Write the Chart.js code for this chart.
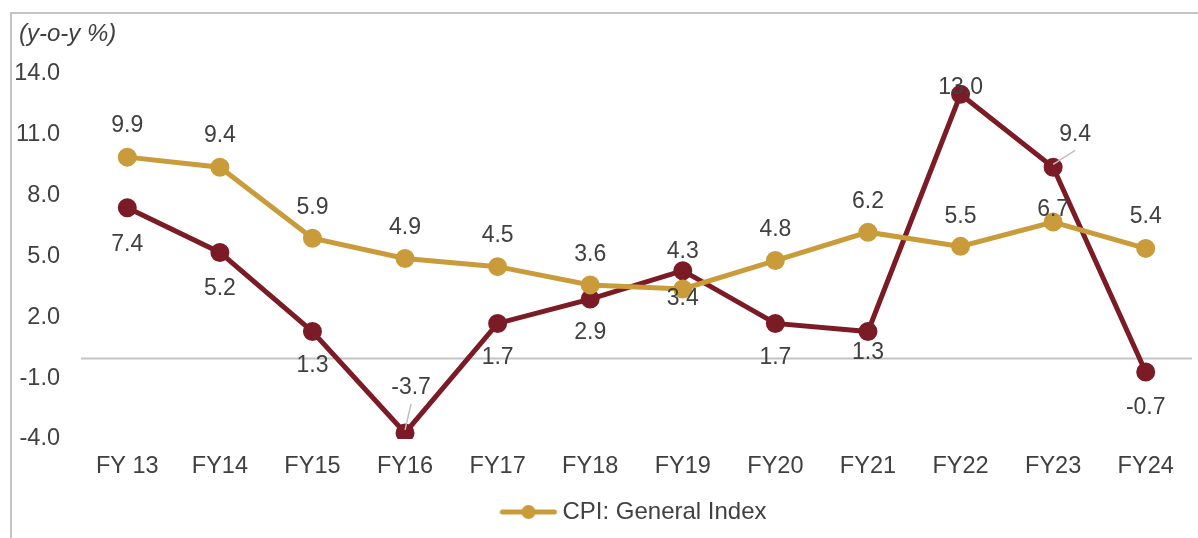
<!DOCTYPE html>
<html>
<head>
<meta charset="utf-8">
<script src="https://cdn.jsdelivr.net/npm/chart.js@4.4.1/dist/chart.umd.min.js"></script>
<style>
  html, body { margin: 0; padding: 0; background: #fff; overflow: hidden; }
  #frame { position: absolute; left: 10px; top: 12px; width: 1186px; height: 526px;
           border-left: 2px solid #c4c4c4; border-top: 2px solid #c4c4c4; }
  #wrap { position: absolute; left: 0; top: 0; width: 1198px; height: 538px; overflow: hidden; }
</style>
</head>
<body>
<div id="frame"></div>
<div id="wrap"><canvas id="grafico" width="1204" height="538"></canvas></div>
<script>
const anos = ['FY 13', 'FY14', 'FY15', 'FY16', 'FY17', 'FY18', 'FY19', 'FY20', 'FY21', 'FY22', 'FY23', 'FY24'];
const cpiGeral = [9.9, 9.4, 5.9, 4.9, 4.5, 3.6, 3.4, 4.8, 6.2, 5.5, 6.7, 5.4];
const serieVermelha = [7.4, 5.2, 1.3, -3.7, 1.7, 2.9, 4.3, 1.7, 1.3, 13.0, 9.4, -0.7];
const ticksY = [-4, -1, 2, 5, 8, 11, 14];

// deslocamento dos rótulos [dx, dy] em relação ao ponto
const rotulosCpi = [[0,-31],[0,-32],[0,-31],[0,-31],[0,-31],[0,-30],[0,10],[0,-31],[0,-31],[0,-30],[0,-12],[0,-32]];
const rotulosVermelha = [[0,37],[0,36],[0,34],[6,-45],[0,34],[0,34],[0,-19],[0,34],[0,21],[0,-7],[22,-33],[0,36]];
const comLinha = { 3: true, 10: true };

const DOURADO = 'rgb(201,155,58)';
const VINHO = 'rgb(123,27,38)';
const TEXTO = '#404040';
const FONTE = 'Liberation Sans, Arial, sans-serif';

// ícone da legenda: linha com bolinha
const iconeLegenda = document.createElement('canvas');
iconeLegenda.width = 58; iconeLegenda.height = 16;
(function () {
  const c = iconeLegenda.getContext('2d');
  c.strokeStyle = DOURADO; c.lineWidth = 5; c.lineCap = 'round';
  c.beginPath(); c.moveTo(3, 8); c.lineTo(55, 8); c.stroke();
  c.fillStyle = DOURADO; c.beginPath(); c.arc(29, 8, 7, 0, Math.PI * 2); c.fill();
})();

// linha do zero
const linhaZero = {
  id: 'linhaZero',
  beforeDatasetsDraw(chart) {
    const { ctx, chartArea } = chart;
    const y = Math.round(chart.scales.y.getPixelForValue(0)) + 0.5;
    ctx.save();
    ctx.strokeStyle = '#c4c4c4';
    ctx.lineWidth = 2;
    ctx.beginPath();
    ctx.moveTo(chartArea.left, y);
    ctx.lineTo(chartArea.right, y);
    ctx.stroke();
    ctx.restore();
  }
};

const rotulos = {
  id: 'rotulos',
  afterDatasetsDraw(chart) {
    const ctx = chart.ctx;
    ctx.save();
    ctx.font = '23px ' + FONTE;
    ctx.fillStyle = TEXTO;
    ctx.textAlign = 'center';
    ctx.textBaseline = 'middle';
    const desloc = [rotulosCpi, rotulosVermelha];
    chart.data.datasets.forEach((ds, i) => {
      const meta = chart.getDatasetMeta(i);
      meta.data.forEach((pt, j) => {
        const [dx, dy] = desloc[i][j];
        const x = pt.x + dx, y = pt.y + dy;
        if (i === 1 && comLinha[j]) {
          // linha guia do ponto até o rótulo
          ctx.strokeStyle = '#bfbfbf'; ctx.lineWidth = 1.5;
          ctx.beginPath();
          ctx.moveTo(pt.x, pt.y - 3);
          ctx.lineTo(x, y + 16);
          ctx.stroke();
        }
        ctx.fillText(ds.data[j].toFixed(1), x, y);
      });
    });
    // título do eixo
    ctx.font = 'italic 24px ' + FONTE;
    ctx.textAlign = 'left';
    ctx.fillText('(y-o-y %)', 19, 34);
    ctx.restore();
  }
};

new Chart(document.getElementById('grafico'), {
  type: 'line',
  data: {
    labels: anos,
    datasets: [
      {
        label: 'CPI: General Index',
        data: cpiGeral,
        borderColor: DOURADO,
        backgroundColor: DOURADO,
        borderWidth: 5,
        pointRadius: 7,
        pointHoverRadius: 7,
        tension: 0,
      },
      {
        label: '',
        data: serieVermelha,
        borderColor: VINHO,
        backgroundColor: VINHO,
        borderWidth: 5,
        pointRadius: 7,
        pointHoverRadius: 7,
        tension: 0,
      },
    ],
  },
  options: {
    responsive: false,
    animation: false,
    layout: { padding: { left: 0, right: 0, top: 74, bottom: 4 } },
    scales: {
      x: {
        offset: true,
        grid: { display: false },
        border: { display: false },
        ticks: { color: TEXTO, font: { family: FONTE, size: 23.5 }, padding: 5, maxRotation: 0 },
        afterFit: (s) => { s.height = 51; },
      },
      y: {
        min: -4,
        max: 14,
        afterBuildTicks: (s) => { s.ticks = ticksY.map(v => ({ value: v })); },
        afterFit: (s) => { s.width = 81; },
        border: { display: false },
        grid: { display: false },
        ticks: {
          color: TEXTO,
          font: { family: FONTE, size: 23.5 },
          padding: 13,
          callback: (v) => Number(v).toFixed(1),
        },
      },
    },
    plugins: {
      legend: {
        position: 'bottom',
        fullSize: false,
        labels: {
          usePointStyle: true,
          pointStyleWidth: 44,
          boxHeight: 16,
          color: TEXTO,
          font: { family: FONTE, size: 24 },
          padding: 10,
          generateLabels: () => [{
            text: 'CPI: General Index',
            pointStyle: iconeLegenda,
            fillStyle: DOURADO,
            strokeStyle: DOURADO,
            lineWidth: 0,
            datasetIndex: 0,
            fontColor: TEXTO,
          }],
        },
      },
      tooltip: { enabled: false },
    },
  },
  plugins: [linhaZero, rotulos],
});
</script>
</body>
</html>
